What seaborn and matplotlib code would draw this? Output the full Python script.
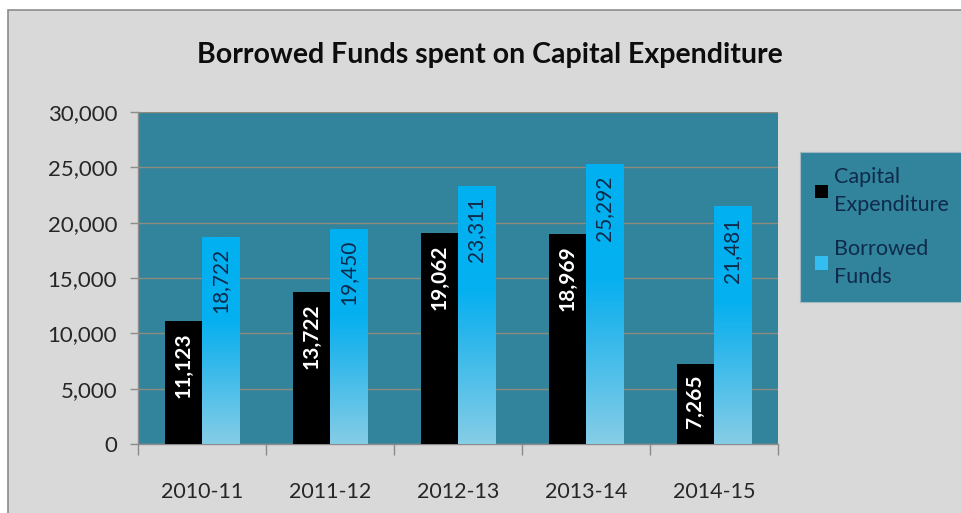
import numpy as np
import pandas as pd
import matplotlib
matplotlib.use("Agg")
import matplotlib.pyplot as plt
from matplotlib.colors import LinearSegmentedColormap
from matplotlib.patches import Rectangle, Patch
import seaborn as sns

years = ["2010-11", "2011-12", "2012-13", "2013-14", "2014-15"]
capital_expenditure = [11123, 13722, 19062, 18969, 7265]
borrowed_funds = [18722, 19450, 23311, 25292, 21481]
series_names = ["Capital\nExpenditure", "Borrowed\nFunds"]
title = "Borrowed Funds spent on Capital Expenditure"

df = pd.DataFrame({
    "Year": years * 2,
    "Amount": capital_expenditure + borrowed_funds,
    "Series": [series_names[0]] * len(years) + [series_names[1]] * len(years),
})

sns.set_theme(style="white")
plt.rcParams["font.family"] = ["Lato", "DejaVu Sans"]

FIG_BG = "#d9d9d9"
PLOT_BG = "#31849b"
BLACK = "#000000"
BLUE = "#00b0f0"
NAVY = "#0f2a4a"

fig = plt.figure(figsize=(9.62, 5.13), dpi=100)
fig.patch.set_facecolor("white")
# grey chart panel with a thin outline
fig.patches.append(Rectangle((8 / 962, -0.01), 1.0, 1 - 10 / 513 + 0.01,
                             transform=fig.transFigure, facecolor=FIG_BG,
                             edgecolor="#8c8c8c", linewidth=1.2, zorder=-5))

ax = fig.add_axes([138 / 962, 1 - 444 / 513, (778 - 138) / 962, (444 - 112) / 513])
ax.set_zorder(2)
ax.set_facecolor(PLOT_BG)

sns.barplot(data=df, x="Year", y="Amount", hue="Series",
            palette=[BLACK, BLUE], width=0.58, gap=0, saturation=1,
            linewidth=0, edgecolor="none",
            legend=False, ax=ax, zorder=3)

ax.set_ylim(0, 30000)
ax.set_xlim(-0.5, len(years) - 0.5)
ax.set_yticks(np.arange(0, 30001, 5000))
ax.set_yticklabels([f"{v:,}" for v in range(0, 30001, 5000)])
ax.set_xlabel("")
ax.set_ylabel("")
ax.yaxis.grid(True, color="#8e8a80", linewidth=1.0, zorder=1)
ax.set_axisbelow(True)

for s in ["top", "right"]:
    ax.spines[s].set_visible(False)
ax.spines["left"].set_color("#8c8c8c")
ax.spines["bottom"].set_color("#8c8c8c")
ax.spines["left"].set_linewidth(1.0)
ax.spines["bottom"].set_linewidth(1.0)

ax.tick_params(axis="y", which="major", left=True, length=6, width=1,
               color="#8c8c8c", labelsize=16, labelcolor="#262626", pad=9)
ax.set_xticks(range(len(years)))
ax.tick_params(axis="x", which="major", bottom=False, labelsize=15.5,
               labelcolor="#262626", pad=21)
ax.set_xticks(np.arange(-0.5, len(years), 1.0), minor=True)
ax.tick_params(axis="x", which="minor", bottom=True, length=8, width=1,
               color="#8c8c8c")

# vertical gradient for the borrowed-funds bars
grad = LinearSegmentedColormap.from_list(
    "bf", [(0.0, "#86cde6"), (0.45, "#25b5ec"), (0.6, "#05b0f0"), (1.0, "#00b0f0")])
grad_img = np.linspace(0, 1, 256).reshape(-1, 1)

n = len(years)
patches = ax.patches[:2 * n]
cap_patches = patches[:n]
bf_patches = patches[n:]

for p in bf_patches:
    x0, w, h = p.get_x(), p.get_width(), p.get_height()
    p.set_facecolor("none")
    im = ax.imshow(grad_img, extent=[x0, x0 + w, 0, h], origin="lower",
                   cmap=grad, aspect="auto", zorder=3)
    im.set_clip_path(p)

ax.set_xlim(-0.5, len(years) - 0.5)
ax.set_ylim(0, 30000)

# value labels inside the top of each bar, rotated
for p, v in zip(cap_patches, capital_expenditure):
    ax.text(p.get_x() + p.get_width() / 2, v - 1000, f"{v:,}", rotation=90,
            ha="center", va="top", color="white", fontsize=15,
            fontweight="bold", zorder=5)
for p, v in zip(bf_patches, borrowed_funds):
    ax.text(p.get_x() + p.get_width() / 2, v - 1000, f"{v:,}", rotation=90,
            ha="center", va="top", color=NAVY, fontsize=15, zorder=5)

fig.text(490 / 962, 1 - 55 / 513, title, ha="center", va="center",
         fontsize=20.5, fontweight="bold", color="#0d0d0d")

handles = [Patch(facecolor=BLACK, edgecolor="none"),
           Patch(facecolor="#33bdf0", edgecolor="none")]
leg = fig.legend(handles, series_names, loc="upper left",
                 bbox_to_anchor=(800 / 962, 1 - 152 / 513),
                 fontsize=15.5, frameon=True, fancybox=False,
                 handlelength=0.6, handleheight=0.6, handletextpad=0.3,
                 borderpad=0.7, labelspacing=1.1, borderaxespad=0)
frame = leg.get_frame()
frame.set_facecolor(PLOT_BG)
frame.set_edgecolor("#a0b8c0")
frame.set_linewidth(0.8)
frame.set_alpha(1)
for t in leg.get_texts():
    t.set_color(NAVY)
    t.set_linespacing(1.5)

fig.savefig("out.png", dpi=100, facecolor=fig.get_facecolor())
